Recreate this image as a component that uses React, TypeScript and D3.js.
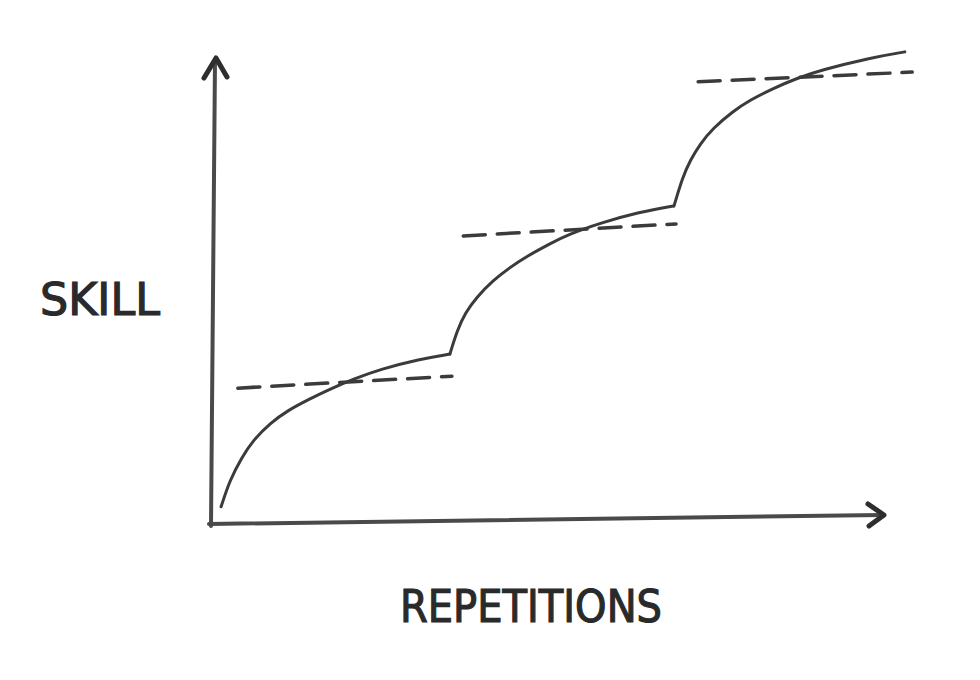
import React from "react";
import * as d3 from "d3";

// Skill (y, 0-100) vs repetitions (x, 0-100), three learning phases
const phase1: [number, number][] = [
  [1.5, 3.3], [2.8, 9.1], [4.6, 14.1], [6.3, 17.8], [8.8, 21.5], [11.5, 24.3],
  [14.5, 26.6], [17.7, 28.9], [21.5, 31.2], [25.2, 33.2], [31.1, 35.4], [35.6, 36.5],
];
const phase2: [number, number][] = [
  [35.6, 36.5], [36.7, 41.7], [37.9, 45.5], [39.6, 48.9], [42.0, 52.5],
  [44.5, 55.3], [47.1, 57.8], [50.5, 60.5], [53.1, 62.4], [58.0, 65.0],
  [63.9, 67.4], [68.9, 68.7],
];
const phase3: [number, number][] = [
  [69.0, 68.7], [70.3, 75.0], [71.4, 78.6], [72.9, 82.2], [74.8, 85.6],
  [77.8, 89.3], [80.3, 91.7], [83.8, 94.3], [87.4, 96.5], [90.8, 98.2],
  [98.2, 100.9], [103.4, 102.2],
];
// plateau (dashed) lines: [x0, y0, x1, y1]
const plateaus: [number, number, number, number][] = [
  [4.0, 29.1, 35.9, 31.7],
  [37.6, 62.2, 69.3, 64.8],
  [72.6, 95.7, 104.5, 97.8],
];
const xLabel = "REPETITIONS";
const yLabel = "SKILL";

const W = 980;
const H = 680;

export default function App() {
  const x = d3.scaleLinear().domain([0, 100]).range([211, 882]);
  const y = d3.scaleLinear().domain([0, 100]).range([522, 62]);
  const line = d3
    .line<[number, number]>()
    .x((d) => x(d[0]))
    .y((d) => y(d[1]))
    .curve(d3.curveBasis);

  const ink = "#3b3b3b";
  const axisInk = "#4a4a4a";
  const font = "'DejaVu Sans', 'Liberation Sans', sans-serif";

  const x0 = x(0), y0 = y(0);
  const xEnd = x(100), yTop = y(100);

  return (
    <svg
      width={W}
      height={H}
      style={{ position: "absolute", left: 0, top: 0, background: "#fff" }}
    >
      {/* y axis */}
      <path
        d={`M${x0},${y0 + 4} L${x0 + 4},${yTop - 2}`}
        stroke={axisInk}
        strokeWidth={4}
        fill="none"
        strokeLinecap="round"
      />
      <path
        d={`M${x0 - 7},${yTop + 16} L${x0 + 5},${yTop - 4} L${x0 + 16},${yTop + 15}`}
        stroke="#2e2e2e"
        strokeWidth={5}
        fill="none"
        strokeLinecap="round"
        strokeLinejoin="round"
      />
      {/* x axis */}
      <path
        d={`M${x0 - 2},${y0 + 2} L${xEnd},${y0 - 7}`}
        stroke={axisInk}
        strokeWidth={4}
        fill="none"
        strokeLinecap="round"
      />
      <path
        d={`M${xEnd - 14},${y0 - 18} L${xEnd + 2},${y0 - 7} L${xEnd - 13},${y0 + 4}`}
        stroke="#2e2e2e"
        strokeWidth={5}
        fill="none"
        strokeLinecap="round"
        strokeLinejoin="round"
      />

      {/* plateaus */}
      {plateaus.map((p, i) => (
        <line
          key={i}
          x1={x(p[0])}
          y1={y(p[1])}
          x2={x(p[2])}
          y2={y(p[3])}
          stroke={ink}
          strokeWidth={3.5}
          strokeDasharray="22 12"
          strokeLinecap="round"
        />
      ))}

      {/* learning curve */}
      {[phase1, phase2, phase3].map((ph, i) => (
        <path
          key={i}
          d={line(ph) || ""}
          stroke={ink}
          strokeWidth={3}
          fill="none"
          strokeLinecap="round"
          strokeLinejoin="round"
        />
      ))}

      {/* labels */}
      <text
        x={40}
        y={315}
        fontFamily={font}
        fontSize={44}
        fill="#2a2a2a"
        stroke="#2a2a2a"
        strokeWidth={1.2}
        textLength={120}
        lengthAdjust="spacingAndGlyphs"
      >
        {yLabel}
      </text>
      <text
        x={400}
        y={622}
        fontFamily={font}
        fontSize={44}
        fill="#2a2a2a"
        stroke="#2a2a2a"
        strokeWidth={1.2}
        textLength={262}
        lengthAdjust="spacingAndGlyphs"
      >
        {xLabel}
      </text>
    </svg>
  );
}
